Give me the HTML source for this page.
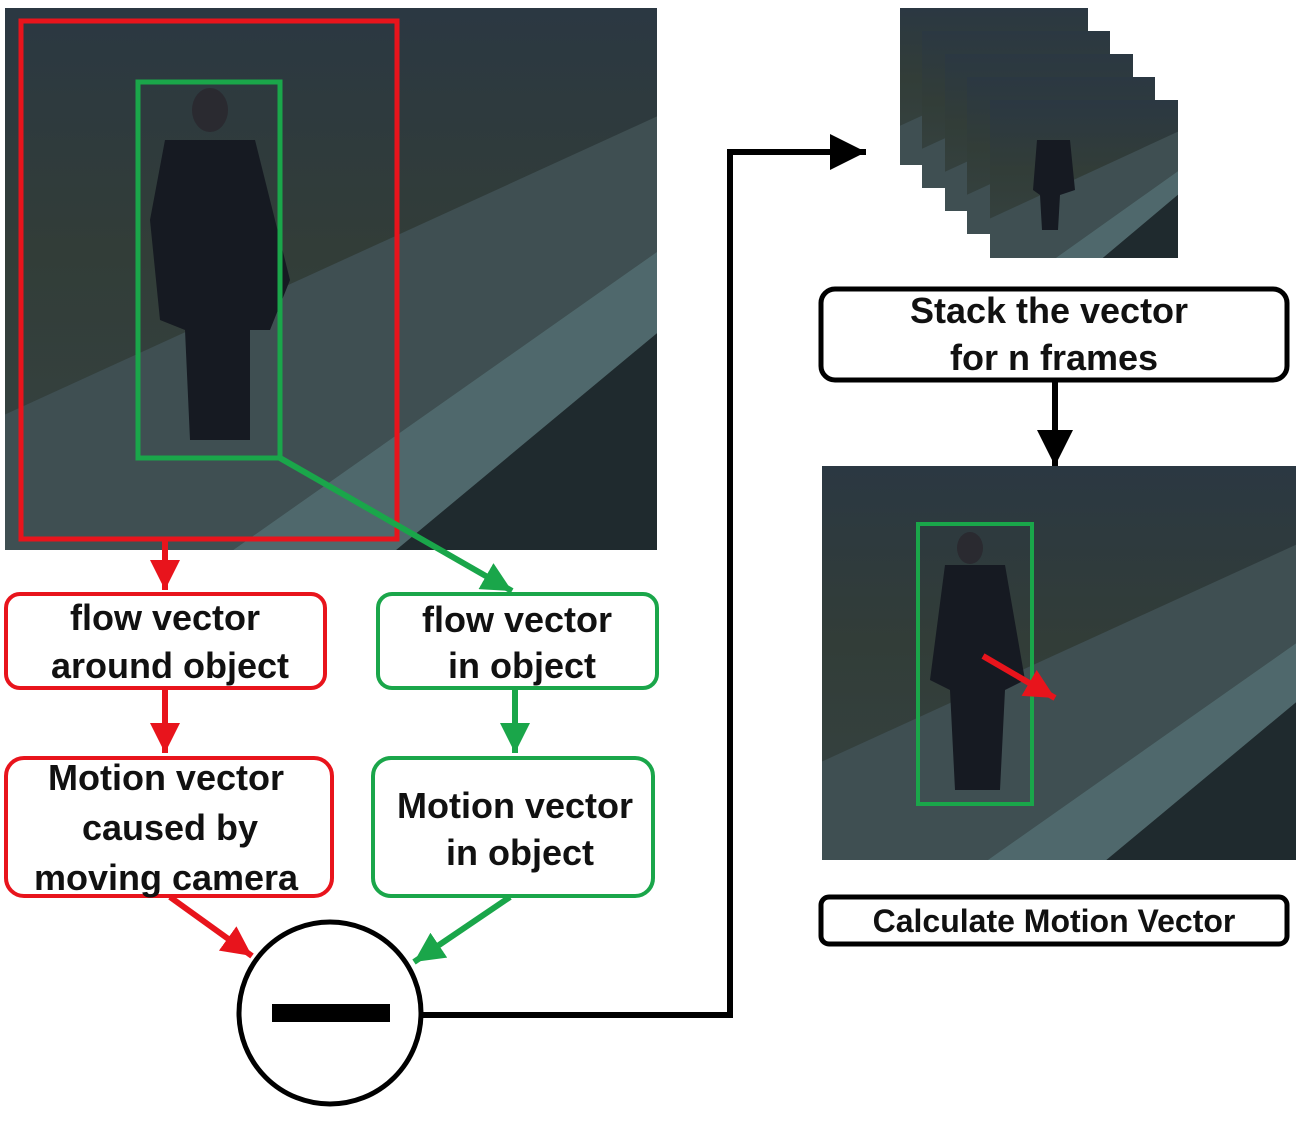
<!DOCTYPE html>
<html><head><meta charset="utf-8"><style>
html,body{margin:0;padding:0;background:#fff}
svg text{font-family:"Liberation Sans",sans-serif;font-weight:bold;fill:#111}
</style></head><body>
<svg width="1306" height="1116" viewBox="0 0 1306 1116" xmlns="http://www.w3.org/2000/svg">
<defs>
<linearGradient id="sky" x1="0" y1="0" x2="0" y2="1">
<stop offset="0" stop-color="#2b3842"/><stop offset="0.45" stop-color="#323d38"/><stop offset="1" stop-color="#364343"/>
</linearGradient>
<marker id="ar" markerWidth="5" markerHeight="5" refX="5" refY="2.5" orient="auto" markerUnits="strokeWidth"><path d="M0,0 L5,2.5 L0,5 z" fill="#e8141c"/></marker>
<marker id="ag" markerWidth="5" markerHeight="5" refX="5" refY="2.5" orient="auto" markerUnits="strokeWidth"><path d="M0,0 L5,2.5 L0,5 z" fill="#1aa64a"/></marker>
<marker id="ab" markerWidth="6" markerHeight="6" refX="6" refY="3" orient="auto" markerUnits="strokeWidth"><path d="M0,0 L6,3 L0,6 z" fill="#000"/></marker>
<g id="scene">
<rect x="0" y="0" width="100" height="100" fill="url(#sky)"/>
<polygon points="0,75 100,20 100,45 35,100 0,100" fill="#3f4f52"/>
<polygon points="35,100 100,45 100,60 60,100" fill="#4f686c"/>
<polygon points="60,100 100,60 100,100" fill="#1f2a2e"/>
</g>
</defs>

<svg x="5" y="8" width="652" height="542" viewBox="0 0 100 100" preserveAspectRatio="none"><use href="#scene"/></svg>
<ellipse cx="210" cy="110" rx="18" ry="22" fill="#2a2a30"/>
<path d="M165 140 L255 140 L290 280 L270 330 L250 330 L250 440 L190 440 L185 330 L160 320 L150 220 Z" fill="#161a22"/>
<rect x="21" y="21" width="376" height="518" fill="none" stroke="#e8141c" stroke-width="5"/>
<rect x="138" y="82" width="142" height="376" fill="none" stroke="#1aa64a" stroke-width="5"/>

<g>
<svg x="900" y="8" width="188" height="157" viewBox="0 0 100 100" preserveAspectRatio="none"><use href="#scene"/></svg>
<svg x="922" y="31" width="188" height="157" viewBox="0 0 100 100" preserveAspectRatio="none"><use href="#scene"/></svg>
<svg x="945" y="54" width="188" height="157" viewBox="0 0 100 100" preserveAspectRatio="none"><use href="#scene"/></svg>
<svg x="967" y="77" width="188" height="157" viewBox="0 0 100 100" preserveAspectRatio="none"><use href="#scene"/></svg>
<svg x="990" y="100" width="188" height="158" viewBox="0 0 100 100" preserveAspectRatio="none"><use href="#scene"/></svg>
<path d="M1037 140 L1070 140 L1075 190 L1060 195 L1058 230 L1042 230 L1040 195 L1033 190 Z" fill="#161a22"/>
</g>

<svg x="822" y="466" width="474" height="394" viewBox="0 0 100 100" preserveAspectRatio="none"><use href="#scene"/></svg>
<path d="M945 565 L1005 565 L1025 680 L1005 690 L1000 790 L955 790 L950 690 L930 680 Z" fill="#161a22"/>
<ellipse cx="970" cy="548" rx="13" ry="16" fill="#2a2a30"/>
<rect x="918" y="524" width="114" height="280" fill="none" stroke="#1aa64a" stroke-width="4"/>
<line x1="983" y1="656" x2="1055" y2="698" stroke="#e8141c" stroke-width="6" marker-end="url(#ar)"/>

<line x1="165" y1="541" x2="165" y2="590" stroke="#e8141c" stroke-width="6" marker-end="url(#ar)"/>
<line x1="280" y1="458" x2="512" y2="591" stroke="#1aa64a" stroke-width="6" marker-end="url(#ag)"/>
<line x1="165" y1="689" x2="165" y2="753" stroke="#e8141c" stroke-width="6" marker-end="url(#ar)"/>
<line x1="515" y1="689" x2="515" y2="753" stroke="#1aa64a" stroke-width="6" marker-end="url(#ag)"/>
<line x1="170" y1="897" x2="252" y2="956" stroke="#e8141c" stroke-width="6" marker-end="url(#ar)"/>
<line x1="510" y1="897" x2="414" y2="962" stroke="#1aa64a" stroke-width="6" marker-end="url(#ag)"/>
<polyline points="422,1015 730,1015 730,152 866,152" fill="none" stroke="#000" stroke-width="6" marker-end="url(#ab)"/>
<line x1="1055" y1="381" x2="1055" y2="466" stroke="#000" stroke-width="6" marker-end="url(#ab)"/>

<rect x="6" y="594" width="319" height="94" rx="14" fill="#fff" stroke="#e8141c" stroke-width="4"/>
<text x="165" y="630" font-size="36" text-anchor="middle">flow vector</text>
<text x="170" y="678" font-size="36" text-anchor="middle">around object</text>
<rect x="378" y="594" width="279" height="94" rx="14" fill="#fff" stroke="#1aa64a" stroke-width="4"/>
<text x="517" y="632" font-size="36" text-anchor="middle">flow vector</text>
<text x="522" y="678" font-size="36" text-anchor="middle">in object</text>
<rect x="6" y="758" width="326" height="138" rx="18" fill="#fff" stroke="#e8141c" stroke-width="4"/>
<text x="166" y="790" font-size="36" text-anchor="middle">Motion vector</text>
<text x="170" y="840" font-size="36" text-anchor="middle">caused by</text>
<text x="166" y="890" font-size="36" text-anchor="middle">moving camera</text>
<rect x="373" y="758" width="280" height="138" rx="18" fill="#fff" stroke="#1aa64a" stroke-width="4"/>
<text x="515" y="818" font-size="36" text-anchor="middle">Motion vector</text>
<text x="520" y="865" font-size="36" text-anchor="middle">in object</text>
<rect x="821" y="289" width="466" height="91" rx="14" fill="#fff" stroke="#000" stroke-width="5"/>
<text x="1049" y="323" font-size="36" text-anchor="middle">Stack the vector</text>
<text x="1054" y="370" font-size="36" text-anchor="middle">for n frames</text>
<rect x="821" y="897" width="466" height="47" rx="8" fill="#fff" stroke="#000" stroke-width="5"/>
<text x="1054" y="932" font-size="32" text-anchor="middle">Calculate Motion Vector</text>

<circle cx="330" cy="1013" r="91" fill="#fff" stroke="#000" stroke-width="5"/>
<rect x="272" y="1004" width="118" height="18" fill="#000"/>
</svg>
</body></html>
